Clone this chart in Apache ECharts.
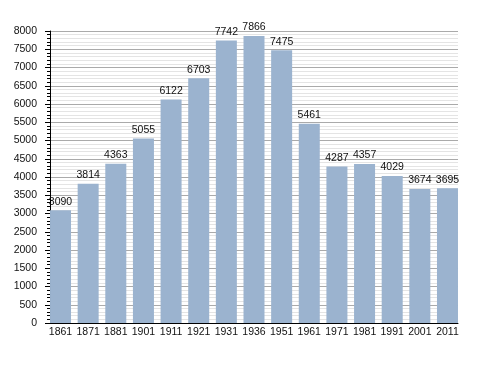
<!DOCTYPE html>
<html><head><meta charset="utf-8">
<script src="https://cdn.jsdelivr.net/npm/echarts@6/dist/echarts.min.js"></script>
<style>html,body{margin:0;padding:0;background:#fff}#c{width:488px;height:373px}</style>
</head><body><div id="c"></div>
<script>
const categories = ['1861','1871','1881','1901','1911','1921','1931','1936','1951','1961','1971','1981','1991','2001','2011'];
const population = [3090,3814,4363,5055,6122,6703,7742,7866,7475,5461,4287,4357,4029,3674,3695];
const yTicks = {min:0, max:8000, interval:500};

const chart = echarts.init(document.getElementById('c'), null, {renderer:'canvas'});
const font = {fontFamily:'Liberation Sans, Arial, sans-serif', fontSize:10.5, color:'#111'};
chart.setOption({
  animation:false,
  backgroundColor:'#fff',
  grid:[
    {left:50, right:30, top:31, bottom:50},
    {left:46.7, right:26.7, top:31, bottom:50}
  ],
  xAxis:[
    {gridIndex:0, type:'value', min:0, max:1, show:true,
     axisLine:{show:true, lineStyle:{color:'#000', width:1}}, axisTick:{show:false},
     axisLabel:{show:false}, splitLine:{show:false}},
    {gridIndex:1, type:'category', data:categories,
     axisLine:{show:false}, axisTick:{show:false},
     axisLabel:Object.assign({margin:4, interval:0}, font), splitLine:{show:false}}
  ],
  yAxis:[
    {gridIndex:0, type:'value', min:yTicks.min, max:yTicks.max, interval:yTicks.interval,
     axisLine:{show:true, lineStyle:{color:'#000', width:1}},
     axisTick:{show:true, length:5, lineStyle:{color:'#000'}},
     minorTick:{show:true, splitNumber:5, length:3, lineStyle:{color:'#000'}},
     axisLabel:Object.assign({margin:13, formatter:v => String(v)}, font),
     splitLine:{show:true, lineStyle:{color:'#aaaaaa', width:1}},
     minorSplitLine:{show:true, lineStyle:{color:'#e4e4e4', width:1}}},
    {gridIndex:1, type:'value', min:yTicks.min, max:yTicks.max, show:false,
     splitLine:{show:false}}
  ],
  series:[{
    type:'bar', xAxisIndex:1, yAxisIndex:1, data:population,
    barCategoryGap:'24%',
    itemStyle:{color:'#9bb3cf'},
    label:Object.assign({show:true, position:'top', distance:3}, font)
  }]
});
</script></body></html>
